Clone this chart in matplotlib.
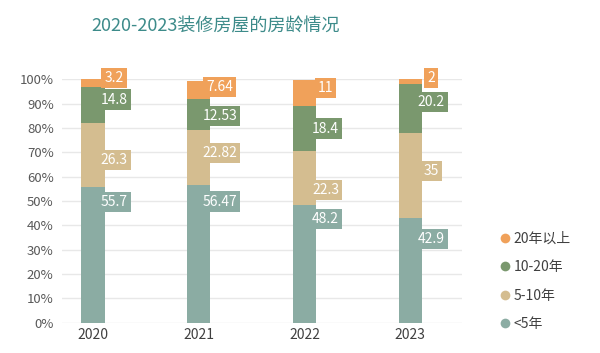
import matplotlib
matplotlib.use("Agg")
import matplotlib.pyplot as plt
from matplotlib.lines import Line2D
import numpy as np

plt.rcParams['font.family'] = ['Noto Sans CJK SC', 'DejaVu Sans']

years = ["2020", "2021", "2022", "2023"]
series_names = ["<5年", "5-10年", "10-20年", "20年以上"]
under5 = [55.7, 56.47, 48.2, 42.9]
y5_10 = [26.3, 22.82, 22.3, 35]
y10_20 = [14.8, 12.53, 18.4, 20.2]
over20 = [3.2, 7.64, 11, 2]
label_texts = [["55.7", "56.47", "48.2", "42.9"],
               ["26.3", "22.82", "22.3", "35"],
               ["14.8", "12.53", "18.4", "20.2"],
               ["3.2", "7.64", "11", "2"]]

# hand-placed label heights (percent) as in the reference
label_pos = [[49.6, 49.8, 42.6, 34.3],
             [67.0, 69.6, 54.5, 62.4],
             [91.7, 85.0, 79.8, 90.7],
             [100.6, 97.0, 96.3, 100.6]]

colors = ["#8BACA3", "#D4BD90", "#7A986E", "#F0A15A"]

fig = plt.figure(figsize=(6.0, 3.53), dpi=100)
ax = fig.add_axes([0.1033, 0.0858, 0.6667, 0.6894])

x = np.arange(len(years))
data = [under5, y5_10, y10_20, over20]
bottom = np.zeros(len(years))
for vals, c in zip(data, colors):
    ax.bar(x, vals, width=0.22, bottom=bottom, color=c, zorder=2)
    bottom = bottom + np.array(vals)

for si, c in enumerate(colors):
    for i in range(len(years)):
        ax.text(x[i] + 0.2, label_pos[si][i], label_texts[si][i],
                ha='center', va='center', color='white', fontsize=10,
                bbox=dict(boxstyle='square,pad=0.22', fc=c, ec='none'),
                zorder=3, clip_on=False)

ax.set_xlim(-0.293, 3.49)
ax.set_ylim(0, 100)
ax.set_yticks(np.arange(0, 101, 10))
ax.set_yticklabels([f"{v}%" for v in range(0, 101, 10)])
ax.set_xticks(x)
ax.set_xticklabels(years)
ax.tick_params(axis='y', length=0, labelsize=9.5, labelcolor='#595959', pad=6)
ax.tick_params(axis='x', length=0, labelsize=10, labelcolor='#404040', pad=4)
ax.grid(axis='y', color='#E8E8E8', linewidth=1, zorder=0)
for s in ax.spines.values():
    s.set_visible(False)

handles = [Line2D([0], [0], marker='o', linestyle='none', markersize=7,
                  markerfacecolor=colors[i], markeredgecolor='none',
                  label=series_names[i]) for i in [3, 2, 1, 0]]
fig.legend(handles=handles, loc='center left', bbox_to_anchor=(0.81, 0.203),
           frameon=False, fontsize=10, handletextpad=0.1, labelspacing=1.05,
           handlelength=1.0, labelcolor='#404040')

fig.text(0.36, 0.925, "2020-2023装修房屋的房龄情况", ha='center', va='center',
         fontsize=13, color='#3D8B8A')

fig.savefig("out.png", dpi=100)
